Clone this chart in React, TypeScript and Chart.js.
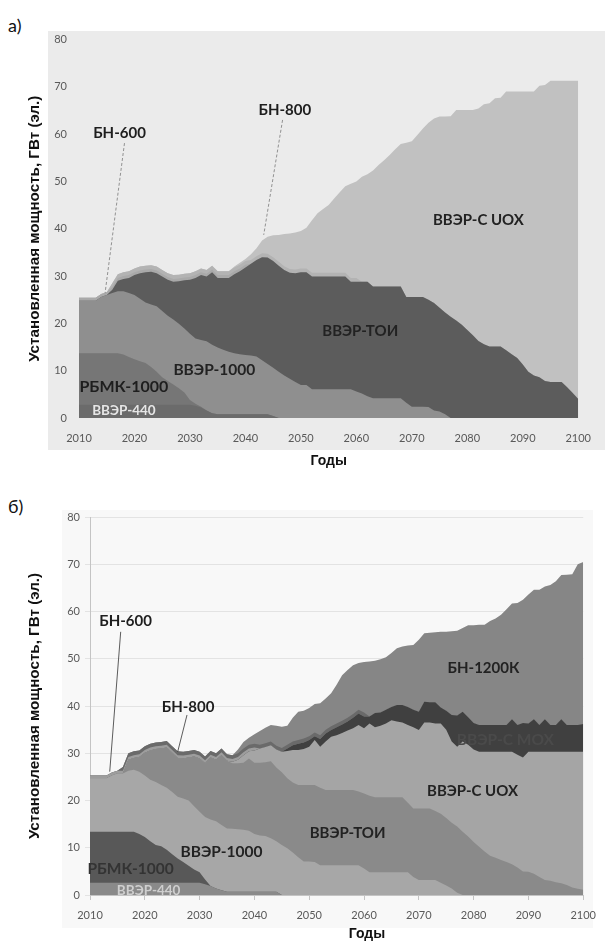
import React, { useEffect, useRef } from "react";
import { Chart, registerables } from "chart.js";

Chart.register(...registerables);

// ---------- categories ----------
const YEARS = [
  2010, 2011, 2012, 2013, 2014, 2015, 2016, 2017, 2018, 2019,
  2020, 2021, 2022, 2023, 2024, 2025, 2026, 2027, 2028, 2029,
  2030, 2031, 2032, 2033, 2034, 2035, 2036, 2037, 2038, 2039,
  2040, 2041, 2042, 2043, 2044, 2045, 2046, 2047, 2048, 2049,
  2050, 2051, 2052, 2053, 2054, 2055, 2056, 2057, 2058, 2059,
  2060, 2061, 2062, 2063, 2064, 2065, 2066, 2067, 2068, 2069,
  2070, 2071, 2072, 2073, 2074, 2075, 2076, 2077, 2078, 2079,
  2080, 2081, 2082, 2083, 2084, 2085, 2086, 2087, 2088, 2089,
  2090, 2091, 2092, 2093, 2094, 2095, 2096, 2097, 2098, 2099,
  2100,
];

// ---------- chart а) series, GW(e) ----------
const A_VVER440 = [
  2.8, 2.8, 2.8, 2.8, 2.8, 2.8, 2.8, 2.8, 2.8, 2.8,
  2.8, 2.8, 2.8, 2.8, 2.8, 2.8, 2.8, 2.8, 2.8, 2.8,
  2.8, 2.6, 2.2, 1.6, 1.0, 0.8, 0.8, 0.8, 0.8, 0.8,
  0.8, 0.8, 0.8, 0.8, 0.8, 0.4, 0, 0, 0, 0,
  0, 0, 0, 0, 0, 0, 0, 0, 0, 0,
  0, 0, 0, 0, 0, 0, 0, 0, 0, 0,
  0, 0, 0, 0, 0, 0, 0, 0, 0, 0,
  0, 0, 0, 0, 0, 0, 0, 0, 0, 0,
  0, 0, 0, 0, 0, 0, 0, 0, 0, 0,
  0,
];
const A_RBMK = [
  10.9, 10.9, 10.9, 10.9, 10.9, 10.9, 10.9, 10.9, 10.6, 10.1,
  9.6, 9.2, 8.8, 8.0, 7.0, 5.8, 5.0, 4.3, 3.5, 2.6,
  1.0, 0.4, 0.2, 0, 0, 0, 0, 0, 0, 0,
  0, 0, 0, 0, 0, 0, 0, 0, 0, 0,
  0, 0, 0, 0, 0, 0, 0, 0, 0, 0,
  0, 0, 0, 0, 0, 0, 0, 0, 0, 0,
  0, 0, 0, 0, 0, 0, 0, 0, 0, 0,
  0, 0, 0, 0, 0, 0, 0, 0, 0, 0,
  0, 0, 0, 0, 0, 0, 0, 0, 0, 0,
  0,
];
const A_VVER1000 = [
  11.1, 11.1, 11.1, 11.1, 11.9, 12.3, 12.7, 13.1, 13.4, 13.5,
  13.6, 13.2, 12.8, 13.2, 13.8, 14.0, 13.8, 13.7, 13.6, 13.5,
  14.0, 13.8, 14.1, 14.6, 14.5, 14.1, 13.6, 13.2, 12.9, 12.7,
  12.5, 12.4, 12.2, 11.4, 10.6, 10.2, 9.8, 9.0, 8.3, 7.6,
  7.0, 7.0, 6.1, 6.1, 6.1, 6.1, 6.1, 6.1, 6.1, 6.1,
  5.6, 5.2, 4.6, 4.2, 4.2, 4.2, 4.2, 4.2, 4.2, 3.2,
  2.4, 2.4, 2.4, 2.3, 1.6, 1.4, 0.8, 0, 0, 0,
  0, 0, 0, 0, 0, 0, 0, 0, 0, 0,
  0, 0, 0, 0, 0, 0, 0, 0, 0, 0,
  0,
];
const A_TOI = [
  0, 0, 0, 0, 0, 0, 0.7, 2.2, 2.6, 3.2,
  4.2, 5.4, 6.4, 6.9, 7.0, 7.3, 7.6, 8.0, 9.0, 10.2,
  11.4, 12.8, 13.7, 13.7, 15.3, 14.7, 15.2, 15.6, 16.7, 17.5,
  18.5, 19.4, 20.4, 21.8, 22.5, 22.6, 22.4, 22.3, 22.4, 23.0,
  23.8, 23.8, 23.8, 23.8, 23.8, 23.8, 23.8, 23.8, 23.8, 22.7,
  23.2, 23.6, 24.2, 23.6, 23.6, 23.6, 23.6, 23.6, 23.6, 22.4,
  23.2, 23.2, 23.2, 22.7, 22.7, 21.9, 21.5, 21.4, 20.6, 19.7,
  18.6, 17.5, 16.3, 15.6, 15.1, 15.1, 15.1, 14.3, 13.5, 12.7,
  11.3, 9.8, 9.0, 8.6, 7.8, 7.6, 7.6, 7.6, 6.5, 5.3,
  4.0,
];
const A_BN600 = [
  0.6, 0.6, 0.6, 0.6, 0.6, 0.6, 0.6, 0.6, 0.6, 0.6,
  0.6, 0.6, 0.6, 0.6, 0.6, 0.6, 0.6, 0.6, 0.6, 0.6,
  0.6, 0.6, 0.6, 0.6, 0.6, 0.6, 0.6, 0.6, 0.6, 0.6,
  0.6, 0, 0, 0, 0, 0, 0, 0, 0, 0,
  0, 0, 0, 0, 0, 0, 0, 0, 0, 0,
  0, 0, 0, 0, 0, 0, 0, 0, 0, 0,
  0, 0, 0, 0, 0, 0, 0, 0, 0, 0,
  0, 0, 0, 0, 0, 0, 0, 0, 0, 0,
  0, 0, 0, 0, 0, 0, 0, 0, 0, 0,
  0,
];
const A_BN800 = [
  0, 0, 0, 0, 0, 0, 0.8, 0.8, 0.8, 0.8,
  0.8, 0.8, 0.8, 0.8, 0.8, 0.8, 0.8, 0.8, 0.8, 0.8,
  0.8, 0.8, 0.8, 0.8, 0.8, 0.8, 0.8, 0.8, 0.8, 0.8,
  0.8, 0.8, 0.8, 0.8, 0.8, 0.8, 0.8, 0.8, 0.8, 0.8,
  0.8, 0.8, 0.8, 0.8, 0.8, 0.8, 0.8, 0.8, 0.8, 0.8,
  0.8, 0, 0, 0, 0, 0, 0, 0, 0, 0,
  0, 0, 0, 0, 0, 0, 0, 0, 0, 0,
  0, 0, 0, 0, 0, 0, 0, 0, 0, 0,
  0, 0, 0, 0, 0, 0, 0, 0, 0, 0,
  0,
];
const A_UOX = [
  0, 0, 0, 0, 0, 0, 0, 0, 0, 0,
  0, 0, 0, 0, 0, 0, 0, 0, 0, 0,
  0, 0, 0, 0, 0, 0, 0, 0, 0.2, 0.4,
  0.4, 1.2, 1.7, 2.7, 3.6, 4.6, 5.7, 6.8, 7.5, 7.8,
  7.9, 8.6, 11.1, 12.6, 13.5, 14.3, 15.7, 17.0, 18.3, 19.9,
  20.4, 22.2, 22.7, 24.5, 25.7, 26.7, 27.8, 29.0, 30.1, 32.6,
  32.9, 34.2, 35.6, 37.4, 39.0, 40.4, 41.4, 42.4, 44.5, 45.4,
  46.5, 47.6, 49.1, 50.7, 51.4, 52.5, 52.6, 54.7, 55.5, 56.3,
  57.7, 59.2, 60.0, 61.6, 62.6, 63.7, 63.7, 63.7, 64.8, 66.0,
  67.3,
];

// ---------- chart б) series, GW(e) ----------
const B_VVER440 = [
  2.6, 2.6, 2.6, 2.6, 2.6, 2.6, 2.6, 2.6, 2.6, 2.6,
  2.6, 2.6, 2.6, 2.6, 2.6, 2.6, 2.6, 2.6, 2.6, 2.6,
  2.6, 2.3, 1.9, 1.4, 1.0, 0.7, 0.7, 0.7, 0.7, 0.7,
  0.7, 0.7, 0.7, 0.7, 0.7, 0, 0, 0, 0, 0,
  0, 0, 0, 0, 0, 0, 0, 0, 0, 0,
  0, 0, 0, 0, 0, 0, 0, 0, 0, 0,
  0, 0, 0, 0, 0, 0, 0, 0, 0, 0,
  0, 0, 0, 0, 0, 0, 0, 0, 0, 0,
  0, 0, 0, 0, 0, 0, 0, 0, 0, 0,
  0,
];
const B_RBMK = [
  10.8, 10.8, 10.8, 10.8, 10.8, 10.8, 10.8, 10.8, 10.8, 10.3,
  9.7, 8.8, 8.0, 7.7, 7.0, 6.0, 5.1, 4.4, 3.6, 2.8,
  2.2, 1.0, 0, 0, 0, 0, 0, 0, 0, 0,
  0, 0, 0, 0, 0, 0, 0, 0, 0, 0,
  0, 0, 0, 0, 0, 0, 0, 0, 0, 0,
  0, 0, 0, 0, 0, 0, 0, 0, 0, 0,
  0, 0, 0, 0, 0, 0, 0, 0, 0, 0,
  0, 0, 0, 0, 0, 0, 0, 0, 0, 0,
  0, 0, 0, 0, 0, 0, 0, 0, 0, 0,
  0,
];
const B_VVER1000 = [
  11.3, 11.3, 11.3, 11.3, 11.9, 12.3, 12.3, 12.9, 13.1, 13.2,
  13.0, 13.0, 13.3, 13.0, 13.1, 13.2, 13.1, 13.4, 13.8, 13.4,
  12.8, 13.2, 14.1, 14.2, 13.8, 13.4, 13.3, 13.2, 13.1, 12.9,
  12.2, 11.9, 11.8, 11.3, 10.7, 10.6, 9.9, 9.0, 8.0, 7.1,
  7.1, 7.0, 6.3, 6.3, 6.3, 6.3, 6.3, 6.3, 6.3, 6.3,
  5.6, 4.8, 4.8, 4.8, 4.8, 4.8, 4.8, 4.8, 4.8, 3.8,
  3.2, 3.2, 3.2, 3.2, 2.6, 2.0, 1.4, 0.5, 0, 0,
  0, 0, 0, 0, 0, 0, 0, 0, 0, 0,
  0, 0, 0, 0, 0, 0, 0, 0, 0, 0,
  0,
];
const B_TOI = [
  0, 0, 0, 0, 0, 0, 0, 2.3, 2.5, 3.1,
  4.8, 6.2, 7.0, 7.7, 8.5, 8.3, 8.2, 8.5, 9.1, 10.5,
  11.3, 11.4, 13.1, 13.0, 14.8, 14.3, 13.9, 14.0, 14.2, 15.3,
  15.1, 15.4, 15.6, 16.3, 15.6, 15.4, 14.8, 14.8, 15.3, 16.2,
  16.2, 16.3, 16.4, 15.9, 15.9, 15.9, 15.9, 15.9, 15.9, 15.6,
  15.9, 16.2, 15.9, 15.9, 15.9, 15.9, 15.9, 15.9, 14.7, 14.5,
  15.1, 15.1, 15.1, 14.6, 14.6, 14.3, 13.9, 14.0, 13.4, 12.4,
  11.2, 10.2, 9.2, 8.3, 7.9, 7.4, 7.0, 6.5, 5.8, 5.0,
  4.9, 4.5, 3.8, 3.2, 3.0, 2.7, 2.5, 2.1, 1.6, 1.3,
  1.1,
];
const B_UOX = [
  0, 0, 0, 0, 0, 0, 0, 0, 0, 0,
  0, 0, 0, 0, 0, 0, 0, 0, 0, 0,
  0, 0, 0, 0, 0, 0, 0.3, 0.7, 1.6, 1.5,
  2.6, 3.0, 3.2, 3.4, 3.8, 4.3, 5.8, 6.9, 7.4, 7.6,
  8.1, 9.5, 8.7, 10.3, 11.3, 11.6, 12.1, 12.6, 13.1, 14.1,
  13.8, 15.3, 14.8, 15.1, 15.6, 16.3, 16.0, 15.8, 16.5, 17.2,
  16.6, 18.2, 18.2, 18.5, 19.1, 18.7, 17.2, 16.9, 19.1, 19.4,
  19.6, 20.1, 21.1, 22.0, 22.4, 22.9, 23.3, 23.8, 23.9, 24.1,
  25.4, 25.8, 26.5, 27.1, 27.3, 27.6, 27.8, 28.2, 28.7, 29.0,
  29.2,
];
const B_MOX = [
  0, 0, 0, 0, 0, 0, 0, 0, 0, 0,
  0, 0, 0, 0, 0, 0, 0, 0, 0, 0,
  0, 0, 0, 0, 0, 0, 0, 0, 0, 0,
  0, 0, 0, 0, 0, 0, 0.5, 1.0, 1.3, 1.4,
  1.4, 0.8, 1.6, 1.7, 1.4, 1.7, 1.8, 1.9, 2.2, 2.4,
  2.5, 1.5, 3.0, 2.8, 2.9, 2.8, 3.5, 3.7, 3.8, 3.7,
  3.9, 4.4, 4.3, 4.5, 3.4, 4.0, 5.6, 6.6, 6.3, 5.8,
  5.6, 5.7, 5.7, 5.7, 5.7, 5.7, 5.7, 6.9, 6.3, 7.3,
  6.0, 6.9, 5.7, 6.9, 5.7, 5.7, 6.9, 5.7, 5.7, 5.7,
  5.9,
];
const B_BN600 = A_BN600.slice();
const B_BN800 = A_BN800.slice();
const B_BN1200 = [
  0, 0, 0, 0, 0, 0, 0, 0, 0, 0,
  0, 0, 0, 0, 0, 0, 0, 0, 0, 0,
  0, 0, 0, 0, 0, 0, 0, 0.8, 1.4, 1.5,
  2.0, 2.9, 3.3, 3.5, 4.2, 4.5, 4.0, 5.0, 6.0, 5.9,
  6.0, 6.0, 6.8, 6.6, 7.0, 8.2, 9.6, 10.1, 10.3, 9.9,
  10.7, 11.6, 11.1, 11.3, 11.1, 11.4, 12.0, 12.4, 13.0, 13.7,
  15.2, 14.5, 14.7, 14.8, 16.0, 16.7, 17.7, 17.9, 17.7, 19.5,
  20.7, 21.2, 21.2, 22.0, 22.5, 23.3, 24.5, 24.5, 25.8, 26.1,
  27.3, 27.4, 28.6, 28.1, 29.6, 30.4, 30.5, 31.8, 31.9, 34.0,
  34.3,
];

const Y_TICKS_MAX = 80;
const Y_TITLE = "Установленная мощность, ГВт (эл.)";
const X_TITLE = "Годы";

// ---------- series definitions ----------
const A_SERIES = [
  { label: "ВВЭР-440", data: A_VVER440, color: "#6b6b6b" },
  { label: "РБМК-1000", data: A_RBMK, color: "#767676" },
  { label: "ВВЭР-1000", data: A_VVER1000, color: "#8f8f8f" },
  { label: "ВВЭР-ТОИ", data: A_TOI, color: "#5c5c5c" },
  { label: "БН-600", data: A_BN600, color: "#a9a9a9" },
  { label: "БН-800", data: A_BN800, color: "#b3b3b3" },
  { label: "ВВЭР-С UOX", data: A_UOX, color: "#c1c1c1" },
];
const B_SERIES = [
  { label: "ВВЭР-440", data: B_VVER440, color: "#8a8a8a" },
  { label: "РБМК-1000", data: B_RBMK, color: "#585858" },
  { label: "ВВЭР-1000", data: B_VVER1000, color: "#a7a7a7" },
  { label: "ВВЭР-ТОИ", data: B_TOI, color: "#8a8a8a" },
  { label: "ВВЭР-С UOX", data: B_UOX, color: "#a5a5a5" },
  { label: "ВВЭР-С MOX", data: B_MOX, color: "#404040" },
  { label: "БН-600", data: B_BN600, color: "#9d9d9d" },
  { label: "БН-800", data: B_BN800, color: "#6a6a6a" },
  { label: "БН-1200К", data: B_BN1200, color: "#868686" },
];

// annotations in data coordinates: [year, GW]
const A_LABELS = [
  { text: "БН-600", at: [2017.3, 60.3], size: 15, color: "#1e1e1e" },
  { text: "БН-800", at: [2047.1, 65.1], size: 15, color: "#1e1e1e" },
  { text: "ВВЭР-С UOX", at: [2082.0, 41.9], size: 15, color: "#222" },
  { text: "ВВЭР-ТОИ", at: [2060.7, 18.4], size: 15, color: "#222" },
  { text: "ВВЭР-1000", at: [2034.4, 10.1], size: 15.5, color: "#222" },
  { text: "РБМК-1000", at: [2018.1, 6.6], size: 16, color: "#1e1e1e" },
  { text: "ВВЭР-440", at: [2018.1, 1.5], size: 13.5, color: "#e6e6e6" },
];
const A_LEADERS = [
  { from: [2018.2, 58.1], to: [2014.7, 26.4] },
  { from: [2046.7, 63.0], to: [2043.3, 38.7] },
];
const B_LABELS = [
  { text: "БН-600", at: [2016.5, 58.0], size: 15, color: "#1e1e1e" },
  { text: "БН-800", at: [2027.9, 39.8], size: 15, color: "#1e1e1e" },
  { text: "БН-1200К", at: [2081.8, 48.0], size: 15, color: "#222" },
  { text: "ВВЭР-С MOX", at: [2085.8, 32.8], size: 15.5, color: "#4a4a4a" },
  { text: "ВВЭР-С UOX", at: [2079.8, 22.0], size: 15, color: "#222" },
  { text: "ВВЭР-ТОИ", at: [2057.0, 13.1], size: 15, color: "#222" },
  { text: "ВВЭР-1000", at: [2034.0, 9.1], size: 15.5, color: "#222" },
  { text: "РБМК-1000", at: [2017.4, 5.5], size: 15.5, color: "#333" },
  { text: "ВВЭР-440", at: [2020.7, 0.85], size: 13.5, color: "#cfcfcf" },
];
const B_LEADERS = [
  { from: [2015.6, 55.7], to: [2013.6, 26.1] },
  { from: [2027.7, 38.1], to: [2026.0, 30.3] },
];

function annotationPlugin(labels, leaders, lineStyle) {
  return {
    id: "annotations",
    afterDatasetsDraw(chart) {
      const { ctx } = chart;
      const x = chart.scales.x;
      const y = chart.scales.y;
      ctx.save();
      ctx.strokeStyle = lineStyle.color;
      ctx.lineWidth = lineStyle.width;
      ctx.setLineDash(lineStyle.dash);
      leaders.forEach((l) => {
        ctx.beginPath();
        ctx.moveTo(x.getPixelForValue(l.from[0]), y.getPixelForValue(l.from[1]));
        ctx.lineTo(x.getPixelForValue(l.to[0]), y.getPixelForValue(l.to[1]));
        ctx.stroke();
      });
      ctx.setLineDash([]);
      ctx.textAlign = "center";
      ctx.textBaseline = "middle";
      labels.forEach((t) => {
        ctx.font = `bold ${t.size}px Lato`;
        ctx.fillStyle = t.color;
        ctx.fillText(t.text, x.getPixelForValue(t.at[0]), y.getPixelForValue(t.at[1]));
      });
      ctx.restore();
    },
  };
}

const TITLE_FONT = { family: "Liberation Sans", weight: "bold", size: 15.2 };

function makeConfig(series, labels, leaders, lineStyle, geo, framed) {
  return {
    type: "line",
    data: {
      labels: YEARS,
      datasets: series.map((s) => ({
        label: s.label,
        data: s.data,
        backgroundColor: s.color,
        borderColor: s.color,
        borderWidth: 0,
        pointRadius: 0,
        fill: "origin",
        tension: 0,
      })),
    },
    options: {
      animation: false,
      responsive: false,
      layout: { padding: { top: geo.top, right: geo.right, left: 0, bottom: 0 } },
      plugins: { legend: { display: false }, tooltip: { enabled: false } },
      scales: {
        x: {
          type: "linear",
          min: 2010,
          max: 2100,
          ticks: {
            stepSize: 10,
            color: "#595959",
            font: { family: "Lato", size: 11 },
            padding: geo.xPad,
            callback: (v) => String(v),
          },
          grid: framed
            ? { display: true, drawOnChartArea: false, drawTicks: true, tickLength: 5, color: "#c4c4c4" }
            : { display: false, drawTicks: false },
          border: framed ? { display: true, color: "#c4c4c4" } : { display: false },
          title: {
            display: geo.xTitle,
            text: X_TITLE,
            color: "#111",
            font: { family: "Liberation Sans", weight: "bold", size: 14 },
            padding: { top: 0, bottom: geo.xTitlePad },
          },
          afterFit: (s) => {
            s.height = geo.xHeight;
          },
        },
        y: {
          stacked: true,
          min: 0,
          max: Y_TICKS_MAX,
          ticks: {
            stepSize: 10,
            color: "#595959",
            font: { family: "Lato", size: 11 },
            padding: geo.yPad,
          },
          grid: framed
            ? { display: true, color: "#e3e3e3", drawTicks: true, tickLength: 5 }
            : { display: false, drawTicks: false },
          border: framed ? { display: true, color: "#c4c4c4" } : { display: false },
          title: {
            display: true,
            text: Y_TITLE,
            color: "#111",
            font: TITLE_FONT,
            padding: { top: geo.yTitlePad, bottom: 0 },
          },
          afterFit: (s) => {
            s.width = geo.yWidth;
          },
        },
      },
    },
    plugins: [annotationPlugin(labels, leaders, lineStyle)],
  };
}

export default function App() {
  const refA = useRef(null);
  const refB = useRef(null);

  useEffect(() => {
    const a = new Chart(
      refA.current,
      makeConfig(
        A_SERIES,
        A_LABELS,
        A_LEADERS,
        { color: "#7a7a7a", width: 0.8, dash: [3, 2] },
        { top: 39.5, right: 24, xHeight: 62, yWidth: 79, xPad: 14, yPad: 12, xTitle: true, xTitlePad: 10, yTitlePad: 26 },
        false
      )
    );
    const b = new Chart(
      refB.current,
      makeConfig(
        B_SERIES,
        B_LABELS,
        B_LEADERS,
        { color: "#333", width: 0.8, dash: [] },
        { top: 37, right: 17, xHeight: 53, yWidth: 90, xPad: 9, yPad: 5, xTitle: false, xTitlePad: 2, yTitlePad: 26 },
        true
      )
    );
    return () => {
      a.destroy();
      b.destroy();
    };
  }, []);

  return (
    <div style={{ position: "absolute", left: 0, top: 0, width: 605, height: 948, background: "#fff", fontFamily: "Lato" }}>
      <div style={{ position: "absolute", left: 48, top: 31, width: 557, height: 419, background: "#ebebeb" }} />
      <div style={{ position: "absolute", left: 62, top: 510, width: 531, height: 418, background: "#f8f8f8" }} />
      <div style={{ position: "absolute", left: 8, top: 15, fontSize: 18, lineHeight: "20px", color: "#111" }}>а)</div>
      <div style={{ position: "absolute", left: 8, top: 496, fontSize: 18, lineHeight: "20px", color: "#111" }}>б)</div>
      <canvas ref={refA} width={605} height={480} style={{ position: "absolute", left: 0, top: 0, width: 605, height: 480 }} />
      <canvas ref={refB} width={605} height={468} style={{ position: "absolute", left: 0, top: 480, width: 605, height: 468 }} />
      <div
        style={{
          position: "absolute",
          left: 327,
          top: 924,
          width: 80,
          textAlign: "center",
          fontFamily: "Liberation Sans",
          fontWeight: "bold",
          fontSize: 14,
          lineHeight: "18px",
          color: "#111",
        }}
      >
        {X_TITLE}
      </div>
    </div>
  );
}
